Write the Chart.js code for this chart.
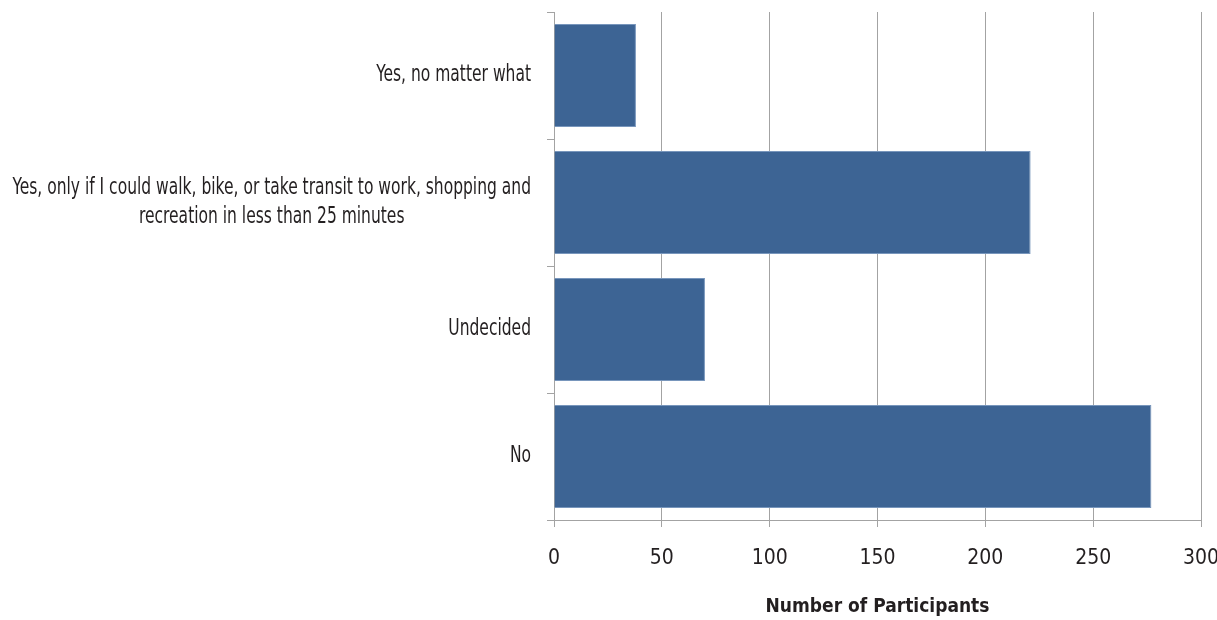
<!DOCTYPE html>
<html>
<head>
<meta charset="utf-8">
<script src="https://cdn.jsdelivr.net/npm/chart.js@4/dist/chart.umd.min.js"></script>
<style>
html,body{margin:0;padding:0;background:#fff;}
#wrap{width:1217px;height:620px;position:relative;}
</style>
</head>
<body>
<div id="wrap"><canvas id="c" width="1217" height="620"></canvas></div>
<script>
const categories = [
  ["Yes, no matter what"],
  ["Yes, only if I could walk, bike, or take transit to work, shopping and", "recreation in less than 25 minutes"],
  ["Undecided"],
  ["No"]
];
const participants = [38, 221, 70, 277];
const xTicks = [0, 50, 100, 150, 200, 250, 300];
const xTitle = "Number of Participants";

const FONT = "'Liberation Sans Narrow', 'Arial Narrow', 'DejaVu Sans Condensed', sans-serif";
const TEXT = "#231F20";
const GRID = "#A3A3A3";

const catLabelPlugin = {
  id: 'catLabels',
  afterDraw(chart) {
    const ys = chart.scales.y;
    const ctx = chart.ctx;
    const rightX = ys.right - 23;
    const sx = 0.75;
    const lineGap = 29;
    ctx.save();
    ctx.font = "23px " + FONT;
    ctx.fillStyle = TEXT;
    ctx.textBaseline = 'middle';
    ctx.textAlign = 'center';
    categories.forEach((lines, i) => {
      const yc = ys.getPixelForValue(i);
      const w = Math.max(...lines.map(l => ctx.measureText(l).width)) * sx;
      const cx = rightX - w / 2;
      lines.forEach((l, k) => {
        const y = yc + (k - (lines.length - 1) / 2) * lineGap;
        ctx.save();
        ctx.translate(cx, y);
        ctx.scale(sx, 1);
        ctx.fillText(l, 0, 0);
        ctx.restore();
      });
    });
    ctx.restore();
  }
};

new Chart(document.getElementById('c'), {
  type: 'bar',
  data: {
    labels: categories.map(c => c.join(' ')),
    datasets: [{
      data: participants,
      backgroundColor: '#3D6494',
      borderColor: '#7896BC',
      borderWidth: 1,
      barPercentage: 0.9,
      categoryPercentage: 0.9
    }]
  },
  options: {
    indexAxis: 'y',
    responsive: false,
    animation: false,
    layout: { padding: { top: 12, right: 16, left: 0, bottom: 0 } },
    plugins: { legend: { display: false }, tooltip: { enabled: false } },
    scales: {
      x: {
        min: xTicks[0],
        max: xTicks[xTicks.length - 1],
        afterBuildTicks: s => { s.ticks = xTicks.map(v => ({ value: v })); },
        afterFit: s => { s.height = 100; s.paddingLeft = 0; s.paddingRight = 0; },
        grid: { color: GRID, lineWidth: 1, tickLength: 7, drawOnChartArea: true },
        border: { color: GRID, width: 1 },
        ticks: { font: { family: FONT, size: 21 }, color: TEXT, padding: 19, maxRotation: 0 },
        title: {
          display: true,
          text: xTitle,
          font: { family: FONT, size: 19, weight: 'bold' },
          color: TEXT,
          padding: { top: 0, bottom: 2 }
        }
      },
      y: {
        afterFit: s => { s.width = 554; },
        grid: { color: GRID, lineWidth: 1, tickLength: 7, drawOnChartArea: false, offset: true },
        border: { color: GRID, width: 1 },
        ticks: { display: false }
      }
    }
  },
  plugins: [catLabelPlugin]
});
</script>
</body>
</html>
